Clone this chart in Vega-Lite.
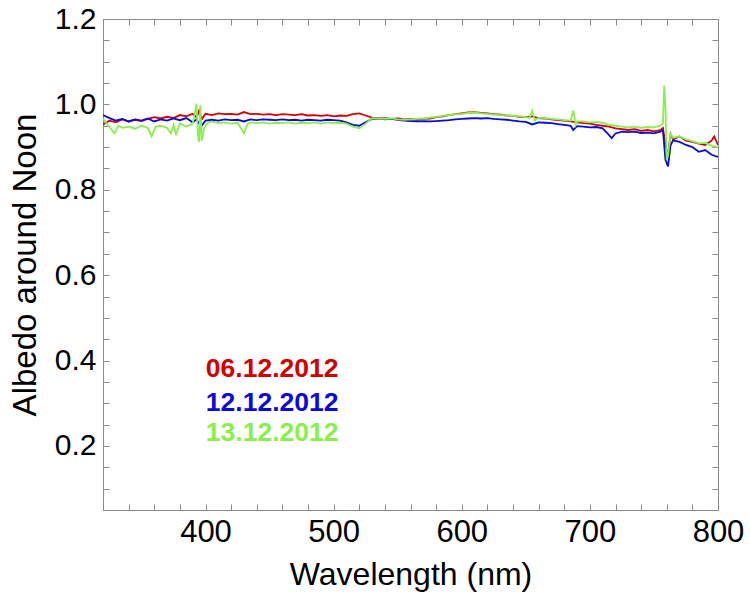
{
  "$schema": "https://vega.github.io/schema/vega-lite/v6.json",
  "autosize": {"type": "none"},
  "width": 615,
  "height": 491,
  "padding": {"left": 103, "top": 19, "right": 32, "bottom": 98},
  "background": "white",
  "config": {
    "font": "Liberation Sans",
    "view": {"stroke": "#8a8a8a", "strokeWidth": 1},
    "axis": {"domainColor": "#8a8a8a", "tickColor": "#8a8a8a", "grid": false, "labelColor": "black", "titleColor": "black", "labelFont": "Liberation Sans", "titleFont": "Liberation Sans", "titleFontWeight": "normal"}
  },
  "datasets": {
    "spec": [
      {"w":320,"s":"06.12.2012","v":0.953},{"w":325,"s":"06.12.2012","v":0.962},{"w":330,"s":"06.12.2012","v":0.958},{"w":335,"s":"06.12.2012","v":0.965},{"w":340,"s":"06.12.2012","v":0.960},{"w":345,"s":"06.12.2012","v":0.964},{"w":350,"s":"06.12.2012","v":0.961},{"w":355,"s":"06.12.2012","v":0.966},{"w":360,"s":"06.12.2012","v":0.970},{"w":365,"s":"06.12.2012","v":0.967},{"w":370,"s":"06.12.2012","v":0.971},{"w":375,"s":"06.12.2012","v":0.968},{"w":380,"s":"06.12.2012","v":0.975},{"w":385,"s":"06.12.2012","v":0.972},{"w":390,"s":"06.12.2012","v":0.978},{"w":393,"s":"06.12.2012","v":0.970},{"w":395,"s":"06.12.2012","v":0.985},{"w":397,"s":"06.12.2012","v":0.965},{"w":400,"s":"06.12.2012","v":0.978},{"w":405,"s":"06.12.2012","v":0.975},{"w":410,"s":"06.12.2012","v":0.979},{"w":415,"s":"06.12.2012","v":0.977},{"w":420,"s":"06.12.2012","v":0.978},{"w":425,"s":"06.12.2012","v":0.976},{"w":430,"s":"06.12.2012","v":0.982},{"w":435,"s":"06.12.2012","v":0.977},{"w":440,"s":"06.12.2012","v":0.978},{"w":445,"s":"06.12.2012","v":0.976},{"w":450,"s":"06.12.2012","v":0.977},{"w":455,"s":"06.12.2012","v":0.975},{"w":460,"s":"06.12.2012","v":0.977},{"w":465,"s":"06.12.2012","v":0.976},{"w":470,"s":"06.12.2012","v":0.975},{"w":475,"s":"06.12.2012","v":0.977},{"w":480,"s":"06.12.2012","v":0.974},{"w":485,"s":"06.12.2012","v":0.975},{"w":490,"s":"06.12.2012","v":0.973},{"w":495,"s":"06.12.2012","v":0.975},{"w":500,"s":"06.12.2012","v":0.972},{"w":505,"s":"06.12.2012","v":0.974},{"w":510,"s":"06.12.2012","v":0.973},{"w":515,"s":"06.12.2012","v":0.977},{"w":520,"s":"06.12.2012","v":0.979},{"w":525,"s":"06.12.2012","v":0.974},{"w":530,"s":"06.12.2012","v":0.969},{"w":535,"s":"06.12.2012","v":0.967},{"w":540,"s":"06.12.2012","v":0.968},{"w":545,"s":"06.12.2012","v":0.966},{"w":550,"s":"06.12.2012","v":0.967},{"w":555,"s":"06.12.2012","v":0.965},{"w":560,"s":"06.12.2012","v":0.966},{"w":565,"s":"06.12.2012","v":0.964},{"w":570,"s":"06.12.2012","v":0.966},{"w":575,"s":"06.12.2012","v":0.967},{"w":580,"s":"06.12.2012","v":0.970},{"w":585,"s":"06.12.2012","v":0.972},{"w":590,"s":"06.12.2012","v":0.975},{"w":595,"s":"06.12.2012","v":0.977},{"w":600,"s":"06.12.2012","v":0.979},{"w":605,"s":"06.12.2012","v":0.981},{"w":610,"s":"06.12.2012","v":0.982},{"w":615,"s":"06.12.2012","v":0.980},{"w":620,"s":"06.12.2012","v":0.979},{"w":625,"s":"06.12.2012","v":0.977},{"w":630,"s":"06.12.2012","v":0.976},{"w":635,"s":"06.12.2012","v":0.974},{"w":640,"s":"06.12.2012","v":0.973},{"w":645,"s":"06.12.2012","v":0.971},{"w":650,"s":"06.12.2012","v":0.970},{"w":655,"s":"06.12.2012","v":0.972},{"w":660,"s":"06.12.2012","v":0.968},{"w":665,"s":"06.12.2012","v":0.967},{"w":670,"s":"06.12.2012","v":0.965},{"w":675,"s":"06.12.2012","v":0.963},{"w":680,"s":"06.12.2012","v":0.962},{"w":685,"s":"06.12.2012","v":0.960},{"w":690,"s":"06.12.2012","v":0.958},{"w":695,"s":"06.12.2012","v":0.956},{"w":700,"s":"06.12.2012","v":0.955},{"w":705,"s":"06.12.2012","v":0.952},{"w":710,"s":"06.12.2012","v":0.950},{"w":715,"s":"06.12.2012","v":0.948},{"w":720,"s":"06.12.2012","v":0.944},{"w":725,"s":"06.12.2012","v":0.942},{"w":730,"s":"06.12.2012","v":0.940},{"w":735,"s":"06.12.2012","v":0.942},{"w":740,"s":"06.12.2012","v":0.938},{"w":745,"s":"06.12.2012","v":0.940},{"w":750,"s":"06.12.2012","v":0.937},{"w":755,"s":"06.12.2012","v":0.940},{"w":757,"s":"06.12.2012","v":0.945},{"w":759,"s":"06.12.2012","v":0.905},{"w":761,"s":"06.12.2012","v":0.880},{"w":763,"s":"06.12.2012","v":0.930},{"w":765,"s":"06.12.2012","v":0.918},{"w":770,"s":"06.12.2012","v":0.925},{"w":775,"s":"06.12.2012","v":0.915},{"w":780,"s":"06.12.2012","v":0.912},{"w":785,"s":"06.12.2012","v":0.908},{"w":790,"s":"06.12.2012","v":0.905},{"w":795,"s":"06.12.2012","v":0.915},{"w":797,"s":"06.12.2012","v":0.925},{"w":800,"s":"06.12.2012","v":0.905},

      {"w":320,"s":"12.12.2012","v":0.975},{"w":325,"s":"12.12.2012","v":0.968},{"w":330,"s":"12.12.2012","v":0.962},{"w":335,"s":"12.12.2012","v":0.966},{"w":340,"s":"12.12.2012","v":0.960},{"w":345,"s":"12.12.2012","v":0.965},{"w":350,"s":"12.12.2012","v":0.962},{"w":355,"s":"12.12.2012","v":0.967},{"w":360,"s":"12.12.2012","v":0.960},{"w":365,"s":"12.12.2012","v":0.965},{"w":370,"s":"12.12.2012","v":0.962},{"w":375,"s":"12.12.2012","v":0.967},{"w":380,"s":"12.12.2012","v":0.963},{"w":385,"s":"12.12.2012","v":0.968},{"w":390,"s":"12.12.2012","v":0.958},{"w":393,"s":"12.12.2012","v":0.965},{"w":395,"s":"12.12.2012","v":0.955},{"w":397,"s":"12.12.2012","v":0.950},{"w":400,"s":"12.12.2012","v":0.962},{"w":405,"s":"12.12.2012","v":0.964},{"w":410,"s":"12.12.2012","v":0.962},{"w":415,"s":"12.12.2012","v":0.965},{"w":420,"s":"12.12.2012","v":0.963},{"w":425,"s":"12.12.2012","v":0.964},{"w":430,"s":"12.12.2012","v":0.960},{"w":435,"s":"12.12.2012","v":0.965},{"w":440,"s":"12.12.2012","v":0.963},{"w":445,"s":"12.12.2012","v":0.965},{"w":450,"s":"12.12.2012","v":0.964},{"w":455,"s":"12.12.2012","v":0.963},{"w":460,"s":"12.12.2012","v":0.965},{"w":465,"s":"12.12.2012","v":0.963},{"w":470,"s":"12.12.2012","v":0.964},{"w":475,"s":"12.12.2012","v":0.962},{"w":480,"s":"12.12.2012","v":0.964},{"w":485,"s":"12.12.2012","v":0.963},{"w":490,"s":"12.12.2012","v":0.962},{"w":495,"s":"12.12.2012","v":0.964},{"w":500,"s":"12.12.2012","v":0.963},{"w":505,"s":"12.12.2012","v":0.962},{"w":510,"s":"12.12.2012","v":0.958},{"w":515,"s":"12.12.2012","v":0.952},{"w":520,"s":"12.12.2012","v":0.950},{"w":525,"s":"12.12.2012","v":0.958},{"w":530,"s":"12.12.2012","v":0.966},{"w":535,"s":"12.12.2012","v":0.967},{"w":540,"s":"12.12.2012","v":0.965},{"w":545,"s":"12.12.2012","v":0.966},{"w":550,"s":"12.12.2012","v":0.964},{"w":555,"s":"12.12.2012","v":0.962},{"w":560,"s":"12.12.2012","v":0.961},{"w":565,"s":"12.12.2012","v":0.960},{"w":570,"s":"12.12.2012","v":0.961},{"w":575,"s":"12.12.2012","v":0.960},{"w":580,"s":"12.12.2012","v":0.961},{"w":585,"s":"12.12.2012","v":0.962},{"w":590,"s":"12.12.2012","v":0.963},{"w":595,"s":"12.12.2012","v":0.965},{"w":600,"s":"12.12.2012","v":0.966},{"w":605,"s":"12.12.2012","v":0.967},{"w":610,"s":"12.12.2012","v":0.968},{"w":615,"s":"12.12.2012","v":0.967},{"w":620,"s":"12.12.2012","v":0.968},{"w":625,"s":"12.12.2012","v":0.966},{"w":630,"s":"12.12.2012","v":0.965},{"w":635,"s":"12.12.2012","v":0.964},{"w":640,"s":"12.12.2012","v":0.962},{"w":645,"s":"12.12.2012","v":0.960},{"w":650,"s":"12.12.2012","v":0.959},{"w":655,"s":"12.12.2012","v":0.953},{"w":660,"s":"12.12.2012","v":0.958},{"w":665,"s":"12.12.2012","v":0.957},{"w":670,"s":"12.12.2012","v":0.956},{"w":675,"s":"12.12.2012","v":0.954},{"w":680,"s":"12.12.2012","v":0.952},{"w":685,"s":"12.12.2012","v":0.950},{"w":687,"s":"12.12.2012","v":0.940},{"w":690,"s":"12.12.2012","v":0.949},{"w":695,"s":"12.12.2012","v":0.948},{"w":700,"s":"12.12.2012","v":0.946},{"w":705,"s":"12.12.2012","v":0.947},{"w":710,"s":"12.12.2012","v":0.944},{"w":715,"s":"12.12.2012","v":0.928},{"w":717,"s":"12.12.2012","v":0.921},{"w":720,"s":"12.12.2012","v":0.932},{"w":725,"s":"12.12.2012","v":0.936},{"w":730,"s":"12.12.2012","v":0.935},{"w":735,"s":"12.12.2012","v":0.936},{"w":740,"s":"12.12.2012","v":0.933},{"w":745,"s":"12.12.2012","v":0.934},{"w":750,"s":"12.12.2012","v":0.932},{"w":755,"s":"12.12.2012","v":0.936},{"w":757,"s":"12.12.2012","v":0.940},{"w":759,"s":"12.12.2012","v":0.870},{"w":761,"s":"12.12.2012","v":0.855},{"w":763,"s":"12.12.2012","v":0.905},{"w":765,"s":"12.12.2012","v":0.916},{"w":770,"s":"12.12.2012","v":0.912},{"w":775,"s":"12.12.2012","v":0.905},{"w":780,"s":"12.12.2012","v":0.900},{"w":785,"s":"12.12.2012","v":0.889},{"w":790,"s":"12.12.2012","v":0.893},{"w":795,"s":"12.12.2012","v":0.882},{"w":800,"s":"12.12.2012","v":0.877},

      {"w":320,"s":"13.12.2012","v":0.967},{"w":325,"s":"13.12.2012","v":0.947},{"w":329,"s":"13.12.2012","v":0.932},{"w":332,"s":"13.12.2012","v":0.950},{"w":335,"s":"13.12.2012","v":0.945},{"w":340,"s":"13.12.2012","v":0.948},{"w":345,"s":"13.12.2012","v":0.943},{"w":350,"s":"13.12.2012","v":0.950},{"w":355,"s":"13.12.2012","v":0.945},{"w":358,"s":"13.12.2012","v":0.925},{"w":361,"s":"13.12.2012","v":0.948},{"w":365,"s":"13.12.2012","v":0.950},{"w":370,"s":"13.12.2012","v":0.945},{"w":373,"s":"13.12.2012","v":0.932},{"w":375,"s":"13.12.2012","v":0.952},{"w":377,"s":"13.12.2012","v":0.930},{"w":380,"s":"13.12.2012","v":0.955},{"w":385,"s":"13.12.2012","v":0.948},{"w":390,"s":"13.12.2012","v":0.955},{"w":392,"s":"13.12.2012","v":0.985},{"w":393,"s":"13.12.2012","v":1.002},{"w":394,"s":"13.12.2012","v":0.930},{"w":395,"s":"13.12.2012","v":0.912},{"w":396,"s":"13.12.2012","v":0.998},{"w":397,"s":"13.12.2012","v":0.915},{"w":399,"s":"13.12.2012","v":0.945},{"w":402,"s":"13.12.2012","v":0.958},{"w":405,"s":"13.12.2012","v":0.960},{"w":410,"s":"13.12.2012","v":0.956},{"w":415,"s":"13.12.2012","v":0.958},{"w":420,"s":"13.12.2012","v":0.955},{"w":425,"s":"13.12.2012","v":0.957},{"w":430,"s":"13.12.2012","v":0.933},{"w":433,"s":"13.12.2012","v":0.955},{"w":435,"s":"13.12.2012","v":0.958},{"w":440,"s":"13.12.2012","v":0.956},{"w":445,"s":"13.12.2012","v":0.958},{"w":450,"s":"13.12.2012","v":0.955},{"w":455,"s":"13.12.2012","v":0.957},{"w":460,"s":"13.12.2012","v":0.956},{"w":465,"s":"13.12.2012","v":0.958},{"w":470,"s":"13.12.2012","v":0.955},{"w":475,"s":"13.12.2012","v":0.957},{"w":480,"s":"13.12.2012","v":0.956},{"w":485,"s":"13.12.2012","v":0.958},{"w":490,"s":"13.12.2012","v":0.955},{"w":495,"s":"13.12.2012","v":0.958},{"w":500,"s":"13.12.2012","v":0.956},{"w":505,"s":"13.12.2012","v":0.957},{"w":510,"s":"13.12.2012","v":0.955},{"w":515,"s":"13.12.2012","v":0.948},{"w":520,"s":"13.12.2012","v":0.944},{"w":525,"s":"13.12.2012","v":0.955},{"w":530,"s":"13.12.2012","v":0.968},{"w":535,"s":"13.12.2012","v":0.967},{"w":540,"s":"13.12.2012","v":0.966},{"w":545,"s":"13.12.2012","v":0.967},{"w":550,"s":"13.12.2012","v":0.965},{"w":555,"s":"13.12.2012","v":0.964},{"w":560,"s":"13.12.2012","v":0.965},{"w":565,"s":"13.12.2012","v":0.966},{"w":570,"s":"13.12.2012","v":0.967},{"w":575,"s":"13.12.2012","v":0.969},{"w":580,"s":"13.12.2012","v":0.971},{"w":585,"s":"13.12.2012","v":0.973},{"w":590,"s":"13.12.2012","v":0.975},{"w":595,"s":"13.12.2012","v":0.977},{"w":600,"s":"13.12.2012","v":0.978},{"w":605,"s":"13.12.2012","v":0.980},{"w":610,"s":"13.12.2012","v":0.981},{"w":615,"s":"13.12.2012","v":0.979},{"w":620,"s":"13.12.2012","v":0.978},{"w":625,"s":"13.12.2012","v":0.976},{"w":630,"s":"13.12.2012","v":0.975},{"w":635,"s":"13.12.2012","v":0.974},{"w":640,"s":"13.12.2012","v":0.973},{"w":645,"s":"13.12.2012","v":0.972},{"w":650,"s":"13.12.2012","v":0.970},{"w":653,"s":"13.12.2012","v":0.968},{"w":655,"s":"13.12.2012","v":0.985},{"w":657,"s":"13.12.2012","v":0.962},{"w":660,"s":"13.12.2012","v":0.969},{"w":665,"s":"13.12.2012","v":0.968},{"w":670,"s":"13.12.2012","v":0.966},{"w":675,"s":"13.12.2012","v":0.965},{"w":680,"s":"13.12.2012","v":0.963},{"w":685,"s":"13.12.2012","v":0.962},{"w":687,"s":"13.12.2012","v":0.986},{"w":689,"s":"13.12.2012","v":0.952},{"w":690,"s":"13.12.2012","v":0.960},{"w":695,"s":"13.12.2012","v":0.960},{"w":700,"s":"13.12.2012","v":0.958},{"w":705,"s":"13.12.2012","v":0.959},{"w":710,"s":"13.12.2012","v":0.957},{"w":715,"s":"13.12.2012","v":0.952},{"w":720,"s":"13.12.2012","v":0.950},{"w":725,"s":"13.12.2012","v":0.948},{"w":730,"s":"13.12.2012","v":0.946},{"w":735,"s":"13.12.2012","v":0.948},{"w":740,"s":"13.12.2012","v":0.945},{"w":745,"s":"13.12.2012","v":0.947},{"w":750,"s":"13.12.2012","v":0.946},{"w":755,"s":"13.12.2012","v":0.950},{"w":757,"s":"13.12.2012","v":0.955},{"w":758,"s":"13.12.2012","v":1.044},{"w":759,"s":"13.12.2012","v":0.990},{"w":760,"s":"13.12.2012","v":0.870},{"w":761,"s":"13.12.2012","v":0.880},{"w":763,"s":"13.12.2012","v":0.930},{"w":765,"s":"13.12.2012","v":0.922},{"w":770,"s":"13.12.2012","v":0.925},{"w":775,"s":"13.12.2012","v":0.918},{"w":780,"s":"13.12.2012","v":0.914},{"w":785,"s":"13.12.2012","v":0.909},{"w":790,"s":"13.12.2012","v":0.910},{"w":795,"s":"13.12.2012","v":0.903},{"w":800,"s":"13.12.2012","v":0.900}
    ],
    "labels": [
      {"w": 452, "v": 0.38, "s": "06.12.2012"},
      {"w": 452, "v": 0.30, "s": "12.12.2012"},
      {"w": 452, "v": 0.23, "s": "13.12.2012"}
    ]
  },
  "layer": [
    {
      "mark": {"type": "rule", "color": "black", "strokeWidth": 2},
      "encoding": {
        "y": {"datum": 1, "type": "quantitative", "scale": {"domain": [0.05, 1.2], "nice": false, "zero": false}, "axis": null}
      }
    },
    {
      "data": {"name": "spec"},
      "mark": {"type": "line", "strokeWidth": 1.8, "clip": true},
      "encoding": {
        "x": {"field": "w", "type": "quantitative",
          "scale": {"domain": [320, 800], "nice": false, "zero": false},
          "axis": {"orient": "bottom", "title": "Wavelength (nm)", "titleFontSize": 32, "titlePadding": 12,
            "values": [340,360,380,400,420,440,460,480,500,520,540,560,580,600,620,640,660,680,700,720,740,760,780,800],
            "labelExpr": "datum.value % 100 === 0 ? datum.label : ''",
            "labelFontSize": 31, "labelPadding": 13, "tickSize": -6, "labelFlush": false, "labelOverlap": false}},
        "y": {"field": "v", "type": "quantitative",
          "scale": {"domain": [0.05, 1.2], "nice": false, "zero": false},
          "axis": {"orient": "left", "title": "Albedo around Noon", "titleFontSize": 33, "titlePadding": 12,
            "values": [0.1,0.15,0.2,0.25,0.3,0.35,0.4,0.45,0.5,0.55,0.6,0.65,0.7,0.75,0.8,0.85,0.9,0.95,1.0,1.05,1.1,1.15,1.2],
            "labelExpr": "abs(datum.value*5 - round(datum.value*5)) < 0.001 ? format(datum.value, '.1f') : ''",
            "labelFontSize": 30, "labelPadding": 13, "tickSize": -6, "labelFlush": false, "labelOverlap": false}},
        "color": {"field": "s", "type": "nominal",
          "scale": {"domain": ["06.12.2012", "12.12.2012", "13.12.2012"], "range": ["#d40000", "#0a0adc", "#88f04a"]},
          "legend": null}
      }
    },
    {
      "data": {"name": "labels"},
      "mark": {"type": "text", "fontSize": 26.5, "fontWeight": "bold", "align": "center", "baseline": "middle", "font": "Liberation Sans"},
      "encoding": {
        "x": {"field": "w", "type": "quantitative",
          "scale": {"domain": [320, 800], "nice": false, "zero": false},
          "axis": {"orient": "top", "title": null, "labels": false, "tickSize": -6,
            "values": [340,360,380,400,420,440,460,480,500,520,540,560,580,600,620,640,660,680,700,720,740,760,780,800]}},
        "y": {"field": "v", "type": "quantitative",
          "scale": {"domain": [0.05, 1.2], "nice": false, "zero": false},
          "axis": {"orient": "right", "title": null, "labels": false, "tickSize": -6,
            "values": [0.1,0.15,0.2,0.25,0.3,0.35,0.4,0.45,0.5,0.55,0.6,0.65,0.7,0.75,0.8,0.85,0.9,0.95,1.0,1.05,1.1,1.15,1.2]}},
        "text": {"field": "s"},
        "color": {"field": "s", "type": "nominal",
          "scale": {"domain": ["06.12.2012", "12.12.2012", "13.12.2012"], "range": ["#d40000", "#0a0adc", "#88f04a"]},
          "legend": null}
      }
    }
  ],
  "resolve": {"axis": {"x": "independent", "y": "independent"}}
}
